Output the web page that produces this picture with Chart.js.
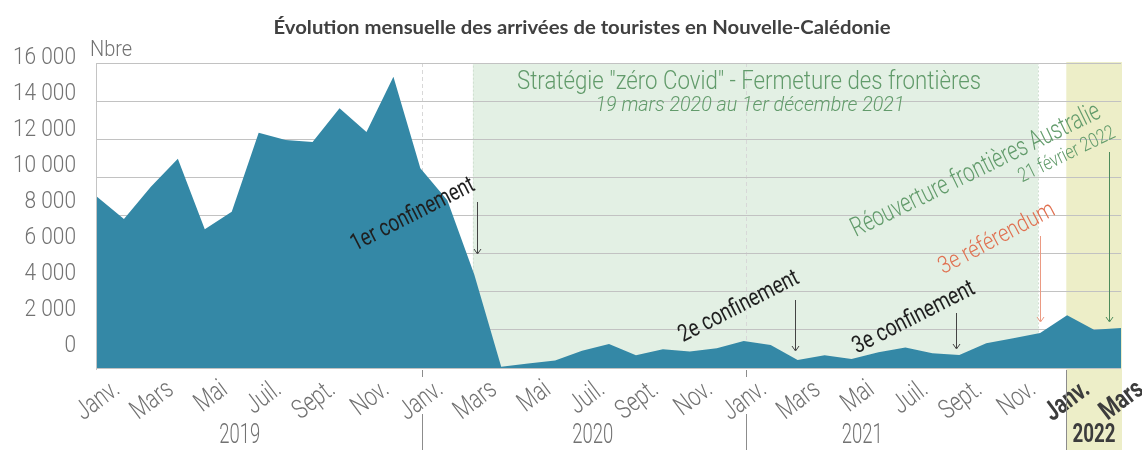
<!DOCTYPE html>
<html lang="fr">
<head>
<meta charset="utf-8">
<title>Arrivées de touristes en Nouvelle-Calédonie</title>
<script src="https://cdn.jsdelivr.net/npm/chart.js@4.4.1/dist/chart.umd.min.js"></script>
<style>
  html, body { margin: 0; padding: 0; background: #fff; }
  #wrap { width: 1142px; height: 450px; position: relative; }
</style>
</head>
<body>
<div id="wrap"><canvas id="tourChart"></canvas></div>
<script>
// --- data ---
const monthNames = ['Janv.', 'Févr.', 'Mars', 'Avr.', 'Mai', 'Juin', 'Juil.', 'Août', 'Sept.', 'Oct.', 'Nov.', 'Déc.'];
const years = ['2019', '2020', '2021', '2022'];
const arrivals2019 = [8990, 7820, 9510, 10980, 7280, 8200, 12340, 11960, 11860, 13620, 12380, 15280];
const arrivals2020 = [10480, 8800, 4900, 70, 230, 390, 910, 1260, 670, 980, 860, 1030];
const arrivals2021 = [1420, 1210, 420, 670, 470, 820, 1070, 770, 680, 1300, 1560, 1840];
const arrivals2022 = [2770, 2010, 2100];
const yTicks = [0, 2000, 4000, 6000, 8000, 10000, 12000, 14000, 16000];

const values = [...arrivals2019, ...arrivals2020, ...arrivals2021, ...arrivals2022];
const labels = values.map((_, i) => monthNames[i % 12] + ' ' + years[Math.floor(i / 12)]);

const FONT = "Roboto, 'Liberation Sans', sans-serif";
const GREY = '#727272';

// text helper: rotation + horizontal squeeze (the original uses a condensed face)
function txt(ctx, s, x, y, o) {
  ctx.save();
  ctx.translate(x, y);
  if (o.rot) ctx.rotate(o.rot * Math.PI / 180);
  ctx.font = `${o.style || 'normal'} ${o.weight || 300} ${o.size}px ${o.family || FONT}`;
  let sx = o.sx || 1;
  if (o.w) sx = o.w / ctx.measureText(s).width;
  ctx.scale(sx, 1);
  ctx.fillStyle = o.color || GREY;
  ctx.textAlign = o.align || 'center';
  ctx.textBaseline = o.base || 'middle';
  ctx.fillText(s, 0, 0);
  ctx.restore();
}

function arrow(ctx, x, y1, y2, color) {
  ctx.save();
  ctx.strokeStyle = color;
  ctx.lineWidth = 1;
  ctx.beginPath();
  ctx.moveTo(x, y1);
  ctx.lineTo(x, y2 - 1);
  ctx.stroke();
  ctx.beginPath();
  ctx.moveTo(x - 3.5, y2 - 5);
  ctx.lineTo(x, y2);
  ctx.lineTo(x + 3.5, y2 - 5);
  ctx.stroke();
  ctx.restore();
}

// backgrounds (drawn before the grid so grid lines show through)
const backdrop = {
  id: 'backdrop',
  beforeDraw(chart) {
    const { ctx, chartArea: a, scales: { x } } = chart;
    ctx.save();
    ctx.fillStyle = '#fff';
    ctx.fillRect(0, 0, chart.width, chart.height);

    // zero-covid period
    const gx1 = x.getPixelForValue(13.95), gx2 = x.getPixelForValue(34.92);
    ctx.fillStyle = '#e3f0e4';
    ctx.fillRect(gx1, a.top, gx2 - gx1, a.bottom - a.top);
    ctx.strokeStyle = '#cfdfd0';
    ctx.setLineDash([2, 2]);
    ctx.strokeRect(gx1 + 0.5, a.top + 0.5, gx2 - gx1, a.bottom - a.top);

    // 2022 highlight
    const yx1 = x.getPixelForValue(35.97);
    ctx.setLineDash([]);
    ctx.fillStyle = '#edeec8';
    ctx.fillRect(yx1, a.top - 1, a.right + 1 - yx1, chart.height - a.top + 1);

    // year boundaries in the plot
    ctx.strokeStyle = '#d8d8d8';
    ctx.setLineDash([4, 3]);
    [12, 24].forEach(i => {
      const px = Math.round(x.getPixelForValue(i) + 2) + 0.5;
      ctx.beginPath();
      ctx.moveTo(px, a.top);
      ctx.lineTo(px, a.bottom);
      ctx.stroke();
    });
    ctx.restore();
  }
};

const decorations = {
  id: 'decorations',
  afterDraw(chart) {
    const { ctx, chartArea: a, scales: { x, y } } = chart;

    // title
    txt(ctx, 'Évolution mensuelle des arrivées de touristes en Nouvelle-Calédonie', 582, 28,
      { size: 19, weight: 'bold', family: "'Lato', 'Open Sans', sans-serif", color: '#404040', w: 617 });

    // y labels (set slightly tighter than the grid, like the original)
    ctx.font = `300 23px ${FONT}`;
    const ysx = 63 / ctx.measureText('16 000').width;
    yTicks.forEach(v => {
      const gy = y.getPixelForValue(v);
      const ly = a.top - 5 + (gy - a.top) * 0.945;
      txt(ctx, v === 0 ? '0' : (v / 1000) + ' 000', 76, ly, { size: 23, sx: ysx, align: 'right' });
    });
    txt(ctx, 'Nbre', 90, 50, { size: 22, sx: ysx, align: 'left' });

    // left axis line
    ctx.save();
    ctx.strokeStyle = '#c4c4c4';
    ctx.lineWidth = 1;
    ctx.beginPath();
    ctx.moveTo(a.left - 0.5, a.top);
    ctx.lineTo(a.left - 0.5, a.bottom + 2);
    ctx.stroke();
    ctx.restore();

    // x labels every other month
    values.forEach((_, i) => {
      if (i % 2) return;
      const is2022 = i >= 36;
      txt(ctx, monthNames[i % 12], x.getPixelForValue(i) + 20, 387, {
        size: 27, sx: 0.76, rot: -37, align: 'right',
        weight: is2022 ? 'bold' : 300, color: is2022 ? '#3c3c3c' : GREY
      });
    });

    // year separators and year labels
    ctx.save();
    ctx.strokeStyle = '#8c8c8c';
    ctx.lineWidth = 1;
    [12, 24].forEach(i => {
      const px = Math.round(x.getPixelForValue(i) + 2) + 0.5;
      ctx.beginPath();
      ctx.moveTo(px, a.bottom + 2); ctx.lineTo(px, a.bottom + 9);
      ctx.moveTo(px, 414); ctx.lineTo(px, chart.height);
      ctx.stroke();
    });
    const sep22 = Math.round(x.getPixelForValue(35.97)) + 0.5;
    ctx.beginPath();
    ctx.moveTo(sep22, a.bottom + 2); ctx.lineTo(sep22, chart.height);
    ctx.stroke();
    ctx.restore();

    txt(ctx, years[0], x.getPixelForValue(5.3), 436, { size: 27, w: 41 });
    txt(ctx, years[1], x.getPixelForValue(18.4), 436, { size: 27, w: 41 });
    txt(ctx, years[2], x.getPixelForValue(28.4), 436, { size: 27, w: 41 });
    txt(ctx, years[3], x.getPixelForValue(37), 435, { size: 26, w: 43, weight: 'bold', color: '#3c3c3c' });

    // zero covid caption
    const green = '#629b6b';
    txt(ctx, 'Stratégie "zéro Covid" - Fermeture des frontières', 749, 83, { size: 25, w: 464, color: green });
    txt(ctx, '19 mars 2020 au 1er décembre 2021', 750, 106, { size: 20, w: 309, style: 'italic', color: green });

    // event annotations
    const ink = '#1f1f1f';
    txt(ctx, '1er confinement', 413, 215, { size: 24, w: 136, rot: -27, weight: 400, color: ink });
    arrow(ctx, Math.round(x.getPixelForValue(14.11)) + 0.5, 202, 254, '#444');

    txt(ctx, '2e confinement', 739, 307, { size: 24, w: 132, rot: -27, weight: 400, color: ink });
    arrow(ctx, Math.round(x.getPixelForValue(25.9)) + 0.5, 300, 351, '#444');

    txt(ctx, '3e confinement', 914, 318, { size: 24, w: 134, rot: -27, weight: 400, color: ink });
    arrow(ctx, Math.round(x.getPixelForValue(31.87)) + 0.5, 313, 349, '#444');

    txt(ctx, '3e référendum', 997, 239, { size: 24, w: 128, rot: -28, color: '#e07050' });
    arrow(ctx, Math.round(x.getPixelForValue(35.0)) + 0.5, 236, 322, '#eb9a82');

    txt(ctx, 'Réouverture frontières Australie', 976, 171, { size: 27, w: 274, rot: -26, color: green });
    txt(ctx, '21 février 2022', 1067, 155, { size: 20, w: 105, rot: -26, color: green });
    arrow(ctx, Math.round(x.getPixelForValue(37.55)) + 0.5, 152, 322, '#4d8b5b');
  }
};

new Chart(document.getElementById('tourChart'), {
  type: 'line',
  data: {
    labels,
    datasets: [{
      label: 'Arrivées',
      data: values,
      fill: 'origin',
      backgroundColor: '#3488a6',
      borderWidth: 0,
      pointRadius: 0,
      tension: 0
    }]
  },
  options: {
    responsive: true,
    maintainAspectRatio: false,
    animation: false,
    layout: { padding: { top: 63, right: 21, left: 0, bottom: 0 } },
    plugins: {
      legend: { display: false },
      tooltip: { enabled: false }
    },
    scales: {
      x: {
        offset: false,
        grid: { display: false },
        border: { display: false },
        ticks: { display: false },
        afterFit: s => { s.height = 82; }
      },
      y: {
        min: 0,
        max: 16000,
        ticks: { display: false, stepSize: 2000 },
        grid: { color: '#c2c2c2', drawTicks: false, lineWidth: 1 },
        border: { display: false },
        afterFit: s => { s.width = 97; }
      }
    }
  },
  plugins: [backdrop, decorations]
});
</script>
</body>
</html>
